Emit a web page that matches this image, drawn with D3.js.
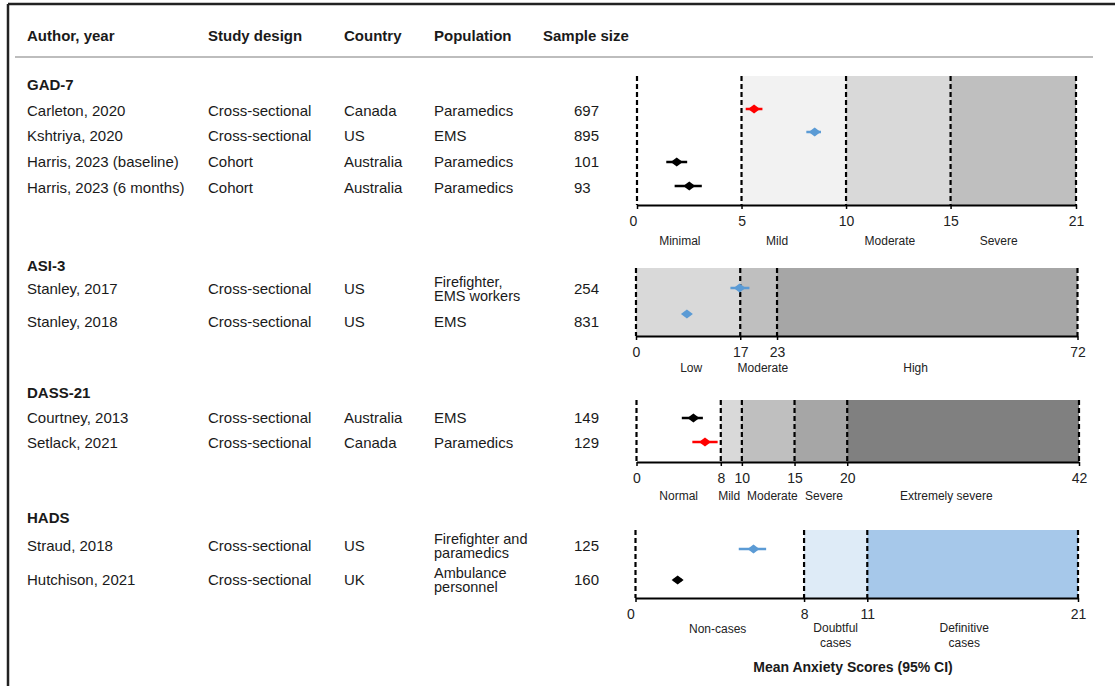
<!DOCTYPE html>
<html>
<head>
<meta charset="utf-8">
<script src="https://cdn.jsdelivr.net/npm/d3@7/dist/d3.min.js"></script>
<style>
  html, body { margin: 0; padding: 0; background: #fff; }
  svg { display: block; font-family: "Liberation Sans", Arial, sans-serif; }
</style>
</head>
<body>
<svg id="chart" width="1115" height="686"></svg>
<script>
// ---- Instruments and their severity cut-offs ----
const scaleNames = ["GAD-7", "ASI-3", "DASS-21", "HADS"];
const scaleCuts = [
  [0, 5, 10, 15, 21],
  [0, 17, 23, 72],
  [0, 8, 10, 15, 20, 42],
  [0, 8, 11, 21]
];
const bandNames = [
  ["Minimal", "Mild", "Moderate", "Severe"],
  ["Low", "Moderate", "High"],
  ["Normal", "Mild", "Moderate", "Severe", "Extremely severe"],
  ["Non-cases", "Doubtful\ncases", "Definitive\ncases"]
];
// where each band label sits, in score units
const bandLabelAt = [
  [2.05, 6.7, 12.1, 17.3],
  [9.0, 20.7, 45.6],
  [4.0, 8.8, 12.9, 17.8, 29.4],
  [3.9, 9.5, 15.6]
];

// ---- Studies ----
const authors = ["Carleton, 2020", "Kshtriya, 2020", "Harris, 2023 (baseline)", "Harris, 2023 (6 months)",
  "Stanley, 2017", "Stanley, 2018", "Courtney, 2013", "Setlack, 2021", "Straud, 2018", "Hutchison, 2021"];
const instrument = ["GAD-7", "GAD-7", "GAD-7", "GAD-7", "ASI-3", "ASI-3", "DASS-21", "DASS-21", "HADS", "HADS"];
const designs = ["Cross-sectional", "Cross-sectional", "Cohort", "Cohort", "Cross-sectional",
  "Cross-sectional", "Cross-sectional", "Cross-sectional", "Cross-sectional", "Cross-sectional"];
const countries = ["Canada", "US", "Australia", "Australia", "US", "US", "Australia", "Canada", "US", "UK"];
const populations = ["Paramedics", "EMS", "Paramedics", "Paramedics", "Firefighter,\nEMS workers", "EMS",
  "EMS", "Paramedics", "Firefighter and\nparamedics", "Ambulance\npersonnel"];
const sampleSizes = [697, 895, 101, 93, 254, 831, 149, 129, 125, 160];
const means   = [5.6, 8.5, 1.9, 2.5, 16.9, 8.3, 5.4, 6.5, 5.6, 2.0];
const ciLower = [5.2, 8.1, 1.4, 1.8, 15.4, 8.0, 4.3, 5.3, 4.9, 1.8];
const ciUpper = [6.0, 8.8, 2.4, 3.1, 18.5, 8.6, 6.3, 7.7, 6.2, 2.2];

const headers = ["Author, year", "Study design", "Country", "Population", "Sample size"];
const axisTitle = "Mean Anxiety Scores (95% CI)";

// ---- Styling and layout ----
const bandFills = [
  ["#ffffff", "#f2f2f2", "#d9d9d9", "#bfbfbf"],
  ["#d9d9d9", "#bfbfbf", "#a6a6a6"],
  ["#ffffff", "#d9d9d9", "#bfbfbf", "#a6a6a6", "#808080"],
  ["#ffffff", "#deebf7", "#a6c8ea"]
];
const countryColor = d3.scaleOrdinal()
  .domain(["Canada", "US", "Australia", "UK"])
  .range(["#ff0000", "#5b9bd5", "#000000", "#000000"]);

const colX = [27, 208, 344, 434, 574];
const headerX = [27, 208, 344, 434, 543];
const panels = [
  { titleY: 85,  top: 76,  axisY: 205, left: 637,   right: 1076,   bandY: 241, zeroShift: -4 },
  { titleY: 266, top: 268, axisY: 336, left: 636,   right: 1077.5, bandY: 368, zeroShift: 0 },
  { titleY: 393, top: 400, axisY: 462, left: 636.5, right: 1079,   bandY: 496, zeroShift: 0 },
  { titleY: 518, top: 530, axisY: 598, left: 635.5, right: 1078,   bandY: 629, zeroShift: -5 }
];
const rowTextY   = [111, 136, 162, 188, 289, 322, 418, 443, 546, 580];
const rowMarkerY = [109, 132, 162, 186, 288, 314, 418, 442, 549, 580];

const ink = "#1a1a1a";
const svg = d3.select("#chart");

// frame
svg.append("line").attr("x1", 8).attr("x2", 1115).attr("y1", 4).attr("y2", 4)
  .attr("stroke", "#222").attr("stroke-width", 2.5);
svg.append("line").attr("x1", 8).attr("x2", 8).attr("y1", 4).attr("y2", 686)
  .attr("stroke", "#222").attr("stroke-width", 2.5);

// column headers
svg.selectAll("text.header").data(headers).join("text")
  .attr("class", "header")
  .attr("x", (d, i) => headerX[i])
  .attr("y", 36).attr("dy", "0.35em")
  .attr("font-size", 15).attr("font-weight", "bold").attr("fill", ink)
  .text(d => d);
svg.append("line").attr("x1", 15).attr("x2", 1093).attr("y1", 57).attr("y2", 57)
  .attr("stroke", "#bdbdbd").attr("stroke-width", 2);

// table rows
const rows = authors.map((a, i) => ({
  i, author: a, design: designs[i], country: countries[i], population: populations[i],
  n: sampleSizes[i], scale: instrument[i], mean: means[i], lo: ciLower[i], hi: ciUpper[i]
}));

function cellText(g, x, y, str, size) {
  const lines = str.split("\n");
  const t = g.append("text").attr("x", x).attr("font-size", size).attr("fill", ink);
  const lh = 14;
  lines.forEach((ln, k) => {
    t.append("tspan").attr("x", x)
      .attr("y", y + (k - (lines.length - 1) / 2) * lh)
      .attr("dy", "0.35em").text(ln);
  });
}

const table = svg.append("g");
rows.forEach(r => {
  const y = rowTextY[r.i];
  cellText(table, colX[0], y, r.author, 15);
  cellText(table, colX[1], y, r.design, 15);
  cellText(table, colX[2], y, r.country, 15);
  cellText(table, colX[3], y, r.population, r.population.includes("\n") ? 14.5 : 15);
  cellText(table, colX[4], y, String(r.n), 15);
});

// one panel per instrument
scaleNames.forEach((name, p) => {
  const L = panels[p];
  const cuts = scaleCuts[p];
  const x = d3.scaleLinear().domain([cuts[0], cuts[cuts.length - 1]]).range([L.left, L.right]);
  const g = svg.append("g");

  // section title
  g.append("text").attr("x", 27).attr("y", L.titleY).attr("dy", "0.35em")
    .attr("font-size", 15).attr("font-weight", "bold").attr("fill", ink).text(name);

  // severity bands
  const bands = d3.pairs(cuts).map((c, k) => ({ a: c[0], b: c[1], fill: bandFills[p][k] }));
  g.selectAll("rect.band").data(bands).join("rect")
    .attr("x", d => x(d.a)).attr("width", d => x(d.b) - x(d.a))
    .attr("y", L.top).attr("height", L.axisY - L.top)
    .attr("fill", d => d.fill);

  // dashed cut-off lines
  g.selectAll("line.cut").data(cuts).join("line")
    .attr("x1", d => x(d)).attr("x2", d => x(d))
    .attr("y1", L.top).attr("y2", L.axisY)
    .attr("stroke", "#000").attr("stroke-width", 2.2).attr("stroke-dasharray", "5,3");

  // axis
  const axis = d3.axisBottom(x).tickValues(cuts).tickSize(4).tickSizeOuter(0).tickPadding(7)
    .tickFormat(d3.format("d"));
  const ag = g.append("g").attr("transform", `translate(0,${L.axisY})`).call(axis);
  ag.select(".domain").attr("stroke", "#000").attr("stroke-width", 2);
  ag.selectAll(".tick line").attr("stroke", "#000").attr("stroke-width", 1.5);
  ag.selectAll(".tick text").attr("font-size", 14).attr("fill", "#222")
    .attr("font-family", "'Liberation Sans', Arial, sans-serif")
    .attr("dx", d => d === 0 ? L.zeroShift : 0);

  // band labels
  bandNames[p].forEach((lbl, k) => {
    const lines = lbl.split("\n");
    const t = g.append("text").attr("text-anchor", "middle").attr("font-size", 12).attr("fill", "#222");
    lines.forEach((ln, j) => {
      t.append("tspan").attr("x", x(bandLabelAt[p][k]))
        .attr("y", L.bandY + (lines.length > 1 ? j * 15 - 1 : 0))
        .attr("dy", "0.35em").text(ln);
    });
  });

  // estimates with 95% CI
  const pts = rows.filter(r => r.scale === name);
  g.selectAll("line.ci").data(pts).join("line")
    .attr("x1", d => x(d.lo)).attr("x2", d => x(d.hi))
    .attr("y1", d => rowMarkerY[d.i]).attr("y2", d => rowMarkerY[d.i])
    .attr("stroke", d => countryColor(d.country)).attr("stroke-width", 2.5);
  g.selectAll("path.est").data(pts).join("path")
    .attr("transform", d => `translate(${x(d.mean)},${rowMarkerY[d.i]})`)
    .attr("d", "M-6,0L0,-4.5L6,0L0,4.5Z")
    .attr("fill", d => countryColor(d.country));
});

// x-axis title
svg.append("text").attr("x", 853).attr("y", 667).attr("dy", "0.35em")
  .attr("text-anchor", "middle").attr("font-size", 14).attr("font-weight", "bold")
  .attr("fill", ink).text(axisTitle);
</script>
</body>
</html>
